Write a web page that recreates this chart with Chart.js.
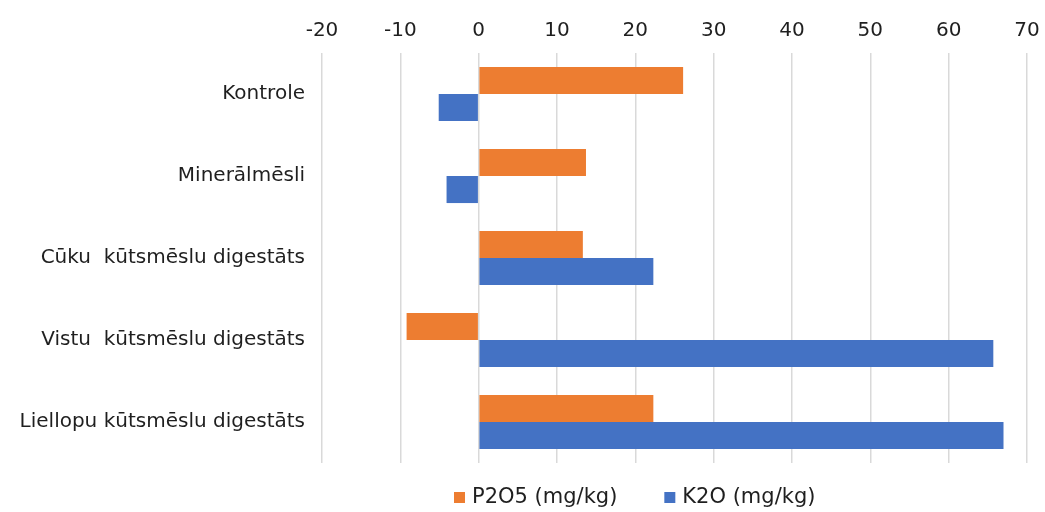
<!DOCTYPE html>
<html>
<head>
<meta charset="utf-8">
<script src="https://cdn.jsdelivr.net/npm/chart.js@4/dist/chart.umd.min.js"></script>
<style>
  html, body { margin: 0; padding: 0; background: #ffffff; }
  #wrap { width: 1045px; height: 512px; }
</style>
</head>
<body>
<div id="wrap"><canvas id="c" width="1045" height="512"></canvas></div>
<script>
// Fertiliser treatments and the change in soil nutrients for each
const categories = [
  'Kontrole',
  'Minerālmēsli',
  'Cūku  kūtsmēslu digestāts',
  'Vistu  kūtsmēslu digestāts',
  'Liellopu kūtsmēslu digestāts'
];
const seriesNames = ['P2O5 (mg/kg)', 'K2O (mg/kg)'];
const p2o5Values = [26.1, 13.7, 13.3, -9.2, 22.3];
const k2oValues = [-5.1, -4.1, 22.3, 65.7, 67.0];
const axisMin = -20;
const axisMax = 70;
const axisStep = 10;

const FONT = '"DejaVu Sans", "Liberation Sans", Arial, sans-serif';
const TEXT = '#1f1f1f';
const ORANGE = '#ED7D31';
const BLUE = '#4472C4';

// Legend drawn as a single row of square swatches under the plot
const bottomKey = {
  id: 'bottomKey',
  afterDraw(chart) {
    const ctx = chart.ctx;
    ctx.save();
    ctx.font = '21px ' + FONT;
    ctx.textBaseline = 'middle';
    ctx.textAlign = 'left';
    let x = 454;
    const y = 497;
    chart.data.datasets.forEach(ds => {
      ctx.fillStyle = ds.backgroundColor;
      ctx.fillRect(x, y - 5, 11, 11);
      ctx.fillStyle = TEXT;
      ctx.fillText(ds.label, x + 18, y + 1);
      x += 18 + ctx.measureText(ds.label).width + 47;
    });
    ctx.restore();
  }
};

new Chart(document.getElementById('c'), {
  type: 'bar',
  data: {
    labels: categories,
    datasets: [
      { label: seriesNames[0], data: p2o5Values, backgroundColor: ORANGE, borderWidth: 0 },
      { label: seriesNames[1], data: k2oValues, backgroundColor: BLUE, borderWidth: 0 }
    ]
  },
  options: {
    indexAxis: 'y',
    responsive: false,
    animation: false,
    datasets: { bar: { categoryPercentage: 0.66, barPercentage: 1.0 } },
    layout: { padding: { top: 0, left: 0, right: 18, bottom: 49 } },
    plugins: {
      legend: { display: false },
      tooltip: { enabled: false }
    },
    scales: {
      x: {
        position: 'top',
        min: axisMin,
        max: axisMax,
        ticks: {
          stepSize: axisStep,
          font: { family: FONT, size: 20 },
          color: TEXT,
          padding: 10
        },
        grid: { color: '#d9d9d9', lineWidth: 1.5, drawTicks: false },
        border: { display: false },
        afterFit(scale) {
          scale.height = 53;
          scale.paddingLeft = 0;
          scale.paddingRight = 0;
        }
      },
      y: {
        ticks: {
          font: { family: FONT, size: 20 },
          color: TEXT,
          padding: 17
        },
        grid: { display: false, drawTicks: false },
        border: { display: false },
        afterFit(scale) { scale.width = 322; }
      }
    }
  },
  plugins: [bottomKey]
});
</script>
</body>
</html>
